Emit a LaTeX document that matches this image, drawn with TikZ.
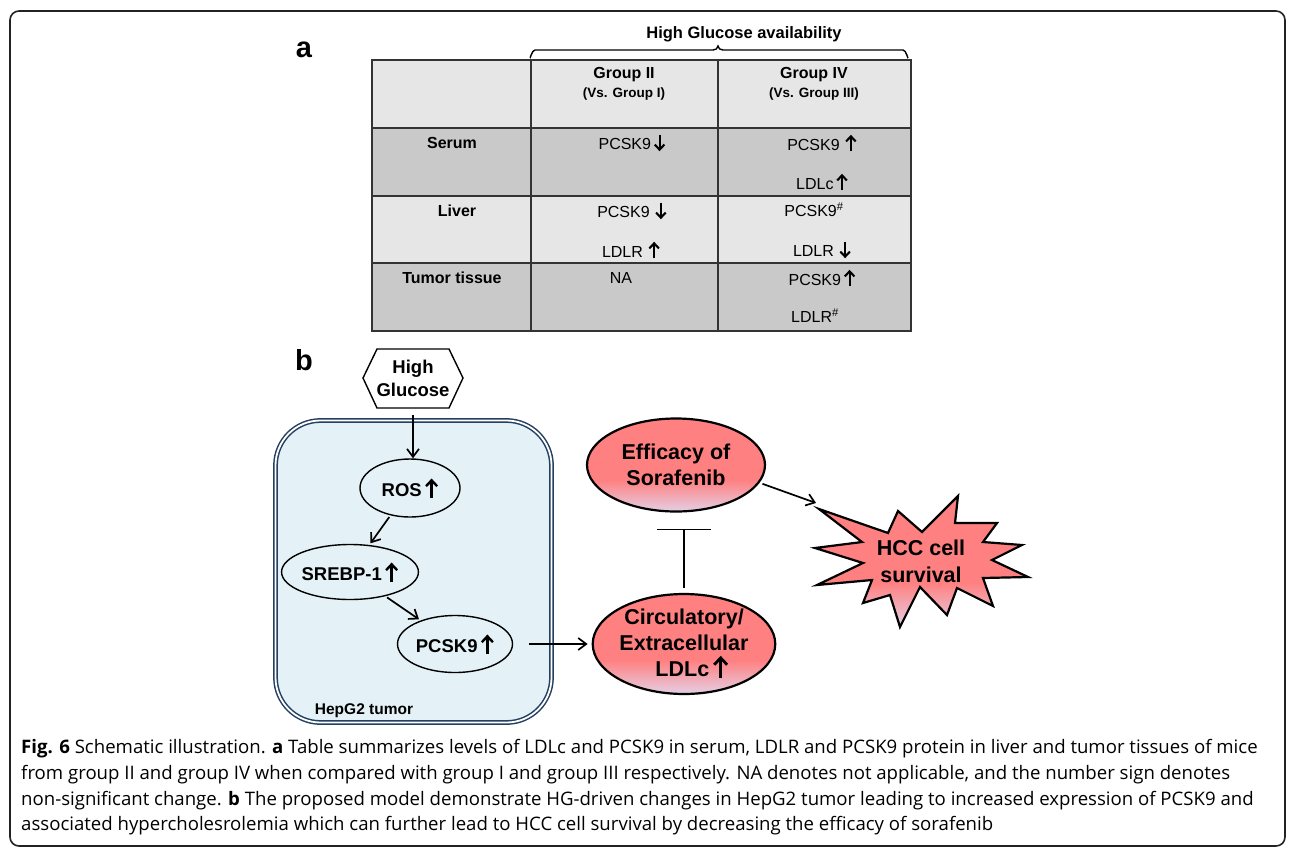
\documentclass[tikz,border=0pt]{standalone}
\usepackage{fontspec}
\setmainfont{Liberation Sans}
\newfontfamily\capfont{Open Sans}
\usetikzlibrary{arrows.meta,shapes.geometric}

\definecolor{lightrow}{HTML}{E6E6E6}
\definecolor{darkrow}{HTML}{C9C9C9}
\definecolor{boxfill}{HTML}{E4F1F6}
\definecolor{navy}{HTML}{243F60}
\definecolor{salmon}{HTML}{FF8080}
\definecolor{pinkbot}{HTML}{E4CFE4}
\definecolor{frame}{HTML}{222222}
\definecolor{tline}{HTML}{333333}

\pgfdeclareverticalshading{pinkfade}{100bp}{color(0bp)=(pinkbot); color(25bp)=(pinkbot); color(42bp)=(salmon); color(100bp)=(salmon)}

\newcommand\upar{\,\tikz[baseline=0pt]\draw[black, line width=0.13em, -{Straight Barb[length=0.32em,width=0.6em,line width=0.13em]}] (0,-0.08em) -- (0,0.95em);}
\newcommand\dnar{\,\tikz[baseline=0pt]\draw[black, line width=0.13em, -{Straight Barb[length=0.32em,width=0.6em,line width=0.13em]}] (0,0.95em) -- (0,-0.08em);}

\begin{document}
\begin{tikzpicture}[x=1pt,y=-1pt,
  cell/.style={font=\fontsize{16}{19}\selectfont, inner sep=0},
  hdr/.style={font=\bfseries\fontsize{16}{19}\selectfont, inner sep=0},
  sub/.style={font=\bfseries\fontsize{13.5}{16}\selectfont, inner sep=0},
  panel/.style={font=\bfseries\fontsize{29}{32}\selectfont, inner sep=0},
  ell/.style={ellipse, draw, line width=1.4, inner sep=0, font=\bfseries\fontsize{18.5}{22}\selectfont},
  pinkell/.style={ellipse, draw, line width=2.2, inner sep=0, shading=pinkfade, align=center, font=\bfseries\fontsize{21.5}{26}\selectfont},
  arr/.style={line width=1.7, -{Straight Barb[length=8,width=12,line width=1.7]}},
  inhib/.style={line width=1.7, -{Bar[width=54,line width=1.7]}},
  capline/.style={anchor=west, inner sep=0, font=\capfont\fontsize{18.6}{21}\selectfont},
]
\useasboundingbox (0,0) rectangle (1296,855);

% outer frame
\draw[line width=1.6, draw=frame, rounded corners=9] (10,11) rectangle (1285,846);

% ---------------- panel a ----------------
\node[panel] (la) at (304,50) {a};

% brace
\draw[line width=1.4] (530,57) to[out=-90,in=180] (535,50) -- (713,50)
  to[out=0,in=-90] (718,46) to[out=-90,in=180] (723,50) -- (903,50) to[out=0,in=-90] (908,57);
\node[hdr, font=\bfseries\fontsize{16.5}{19}\selectfont] (hga) at (744,34) {High Glucose availability};

% table rows
\fill[lightrow] (372,60) rectangle (911,128);
\fill[darkrow] (372,128) rectangle (911,196);
\fill[lightrow] (372,196) rectangle (911,263);
\fill[darkrow] (372,263) rectangle (911,331);
\draw[tline, line width=1.3] (372,60) rectangle (911,331);
\draw[tline, line width=1.3] (372,128) -- (911,128) (372,196) -- (911,196) (372,263) -- (911,263);
\draw[tline, line width=1.3] (531,60) -- (531,331) (718,60) -- (718,331);

% header
\node[hdr] (g2) at (624,75) {Group II};
\node[sub] (g2s) at (624,94) {(Vs. Group I)};
\node[hdr] (g4) at (814,75) {Group IV};
\node[sub] (g4s) at (814,94) {(Vs. Group III)};

% row labels
\node[hdr] (rserum) at (452,143) {Serum};
\node[hdr] (rliver) at (457,211) {Liver};
\node[hdr] (rtumor) at (452,278) {Tumor tissue};

% cells
\node[cell] (s2) at (632,143) {PCSK9\dnar};
\node[cell] (s4a) at (822,143) {PCSK9\,\upar};
\node[cell] (s4b) at (822,182) {LDLc\upar};
\node[cell] (l2a) at (632,211) {PCSK9\,\dnar};
\node[cell] (l2b) at (631,250) {LDLR\,\upar};
\node[cell] (l4a) at (814,210) {PCSK9\textsuperscript{\#}};
\node[cell] (l4b) at (822,250) {LDLR\,\dnar};
\node[cell] (t2) at (621,278) {NA};
\node[cell] (t4a) at (822,278) {PCSK9\upar};
\node[cell] (t4b) at (815,316) {LDLR\textsuperscript{\#}};

% ---------------- panel b ----------------
\node[panel] (lb) at (304,360) {b};

% HepG2 box
\node[draw=navy, line width=1.5, double=white, double distance=1.8, rounded corners=45,
      fill=boxfill, minimum width=276, minimum height=302, inner sep=0] (box) at (413.5,571.5) {};
\node[font=\bfseries\fontsize{15.5}{18}\selectfont, inner sep=0] (hep) at (364,711) {HepG2 tumor};

% hexagon
\draw[line width=1.4, fill=white] (363,378) -- (377,349) -- (449,349) -- (463,378) -- (449,408) -- (377,408) -- cycle;
\node[align=center, inner sep=0, minimum width=100, minimum height=59,
      font=\bfseries\fontsize{18.5}{23}\selectfont] (hg) at (413,378) {High\\Glucose};

% ellipses in box
\node[ell, minimum width=100, minimum height=58] (ros) at (410,488) {ROS\upar};
\node[ell, minimum width=114, minimum height=55] (srebp) at (350,572) {SREBP-1\upar};
\node[ell, minimum width=115, minimum height=57] (pcsk) at (455,644) {PCSK9\upar};

\draw[arr, shorten <=7] (hg.south) -- (hg.south |- ros.north);
\draw[arr, shorten <=2, shorten >=2] (ros) -- (srebp);
\draw[arr, shorten <=2, shorten >=2] (srebp) -- (pcsk);

% pink ellipses
\node[pinkell, minimum width=178, minimum height=93] (eff) at (676,465) {Efficacy of\\Sorafenib};
\node[pinkell, minimum width=178, minimum height=96] (circ) at (684,644) {Circulatory/\\Extracellular\\\hspace*{16pt}LDLc\upar};

\draw[arr, shorten <=16, shorten >=4] (pcsk.east) -- (circ.west);
\draw[inhib, shorten <=5, shorten >=16] (circ.north) -- (circ.north |- eff.south);

% starburst
\shade[shading=pinkfade, draw, line width=2.2, line join=miter]
  (819,509) -- (888,533) -- (898,511) -- (922,532) -- (958,496) -- (955,523)
  -- (997,523) -- (983,542) -- (1022,545) -- (992,560) -- (1028,577) -- (983,578)
  -- (993,606) -- (957,588) -- (947,615) -- (920,587) -- (900,627) -- (890,595)
  -- (863,603) -- (872,580) -- (817,585) -- (863,563) -- (815,548) -- (862,542) -- cycle;
\node[align=center, inner sep=0, font=\bfseries\fontsize{21.5}{27}\selectfont] (hcc) at (921,561) {HCC cell\\survival};
\coordinate (hcctip) at (816,503);
\draw[arr, shorten <=3] (eff.-12) -- (hcctip);

% ---------------- caption ----------------
\node[capline] (c1) at (21,749) {\textbf{Fig. 6} Schematic illustration. \textbf{a} Table summarizes levels of LDLc and PCSK9 in serum, LDLR and PCSK9 protein in liver and tumor tissues of mice};
\node[capline] (c2) at (21,775) {from group II and group IV when compared with group I and group III respectively. NA denotes not applicable, and the number sign denotes};
\node[capline] (c3) at (21,800.5) {non-significant change. \textbf{b} The proposed model demonstrate HG-driven changes in HepG2 tumor leading to increased expression of PCSK9 and};
\node[capline] (c4) at (21,826) {associated hypercholesrolemia which can further lead to HCC cell survival by decreasing the efficacy of sorafenib};
\end{tikzpicture}
\end{document}
